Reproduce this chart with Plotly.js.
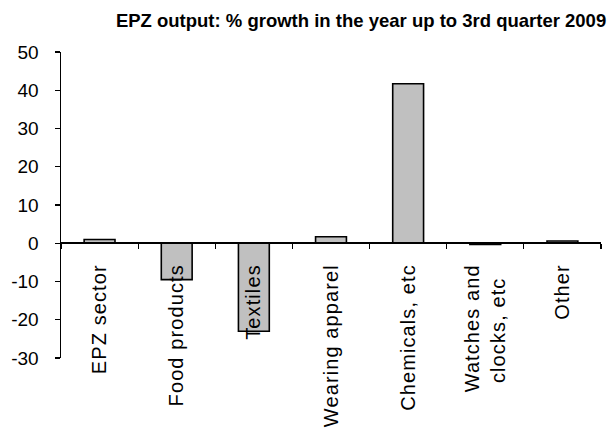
<!DOCTYPE html>
<html>
<head>
<meta charset="utf-8">
<script src="https://cdn.plot.ly/plotly-3.0.1.min.js"></script>
<style>
  html, body { margin: 0; padding: 0; background: #ffffff; }
  #chart { width: 613px; height: 430px; }
  /* category names are set slightly loose */
  #chart .xtick text { letter-spacing: 1.1px; }
</style>
</head>
<body>
<div id="chart"></div>
<script>
// Year-on-year growth of EPZ output by sector, 3rd quarter 2009 (%)
const categories = [
  "EPZ sector",
  "Food products",
  "Textiles",
  "Wearing apparel",
  "Chemicals, etc",
  "Watches and<br>clocks, etc\u00a0\u00a0",
  "Other"
];
const growth = [1.0, -9.5, -23.0, 1.7, 41.7, -0.3, 0.6];
const yTicks = [50, 40, 30, 20, 10, 0, -10, -20, -30];

const yMin = -30, yMax = 50;
const font = "Arial, 'Liberation Sans', sans-serif";

const trace = {
  type: "bar",
  x: categories,
  y: growth,
  width: 0.4,
  marker: {
    color: "#c0c0c0",
    line: { color: "#000000", width: 1.6 }
  },
  hoverinfo: "x+y"
};

const layout = {
  width: 613,
  height: 430,
  margin: { l: 61, r: 12, t: 52, b: 72 },
  paper_bgcolor: "#ffffff",
  plot_bgcolor: "#ffffff",
  showlegend: false,
  font: { family: font, color: "#000000", size: 19 },
  title: {
    text: "<b>EPZ output: % growth in the year up to 3rd quarter 2009</b>",
    font: { family: font, size: 18.5, color: "#000000" },
    x: 0.589, xanchor: "center",
    y: 0.953, yanchor: "middle"
  },
  xaxis: {
    type: "category",
    anchor: "free",
    // the category axis runs along the zero line
    position: (0 - yMin) / (yMax - yMin),
    showline: true,
    linecolor: "#000000",
    linewidth: 2,
    ticks: "outside",
    tickson: "boundaries",
    ticklen: 5,
    tickcolor: "#000000",
    tickwidth: 1.2,
    tickangle: -90,
    ticklabelstandoff: 12,
    showgrid: false,
    zeroline: false,
    automargin: false,
    tickfont: { family: font, size: 20, color: "#000000" }
  },
  yaxis: {
    range: [yMin, yMax],
    tickvals: yTicks,
    ticktext: yTicks.map(String),
    showline: true,
    linecolor: "#000000",
    linewidth: 1.5,
    ticks: "outside",
    ticklen: 5,
    tickcolor: "#000000",
    tickwidth: 1.2,
    ticklabelstandoff: 12,
    showgrid: false,
    zeroline: false,
    automargin: false,
    tickfont: { family: font, size: 19, color: "#000000" }
  },
  bargap: 0.6
};

Plotly.newPlot("chart", [trace], layout, { displayModeBar: false, staticPlot: true });
</script>
</body>
</html>
